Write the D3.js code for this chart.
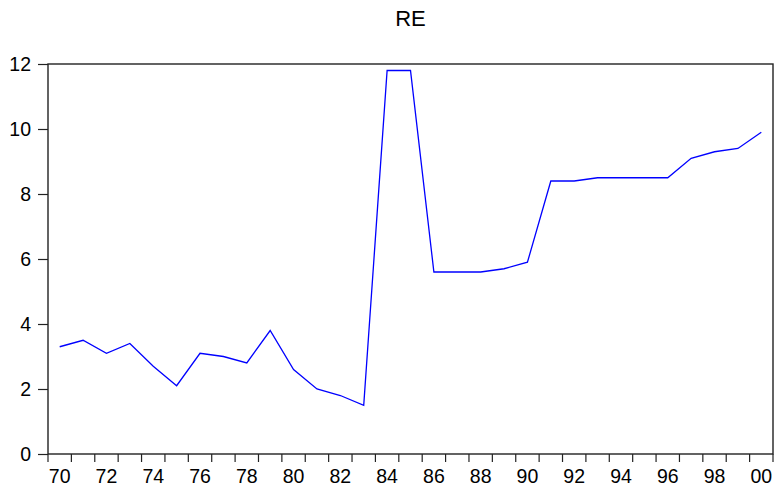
<!DOCTYPE html>
<html>
<head>
<meta charset="utf-8">
<script src="https://cdn.jsdelivr.net/npm/d3@7"></script>
<style>
  body { margin: 0; background: #fff; }
  svg { display: block; font-family: "Liberation Sans", Arial, sans-serif; }
</style>
</head>
<body>
<div id="chart"></div>
<script>
// data
const years = d3.range(1970, 2001);
const reValues = [3.3, 3.5, 3.1, 3.4, 2.7, 2.1, 3.1, 3.0, 2.8, 3.8,
                  2.6, 2.0, 1.8, 1.5, 11.8, 11.8, 5.6, 5.6, 5.6, 5.7,
                  5.9, 8.4, 8.4, 8.5, 8.5, 8.5, 8.5, 9.1, 9.3, 9.4, 9.9];
const yTicks = [0, 2, 4, 6, 8, 10, 12];
const xLabelYears = d3.range(1970, 2001, 2);

const W = 774, H = 490;
const margin = { top: 64, right: 1, bottom: 36, left: 48 };
const width = W - margin.left - margin.right;
const height = H - margin.top - margin.bottom;

const data = years.map((yr, i) => ({ year: yr, value: reValues[i] }));

// one band per year, points sit in the middle of the band
const x = d3.scaleBand()
    .domain(years)
    .range([0, width])
    .padding(0);

const y = d3.scaleLinear()
    .domain([0, 12])
    .range([height, 0]);

const svg = d3.select("#chart")
  .append("svg")
    .attr("width", W)
    .attr("height", H);

svg.append("text")
    .attr("x", margin.left + width / 2)
    .attr("y", 26)
    .attr("text-anchor", "middle")
    .attr("font-size", 22)
    .attr("fill", "#000")
    .text("RE");

const g = svg.append("g")
    .attr("transform", `translate(${margin.left},${margin.top})`);

// y axis
const yAxis = g.append("g")
    .call(d3.axisLeft(y).tickValues(yTicks).tickSize(10).tickPadding(7));
yAxis.select(".domain").remove();
yAxis.selectAll("line").attr("stroke", "#222").attr("stroke-width", 1.2);
yAxis.selectAll("text").attr("font-size", 19.5).attr("fill", "#000")
    .attr("font-family", "Liberation Sans, Arial, sans-serif");

// x axis: ticks at year boundaries, labels centred on every other year
const bounds = years.map(yr => x(yr)).concat([width]);
const xg = g.append("g")
    .attr("transform", `translate(0,${height})`);
xg.selectAll("line.tick")
  .data(bounds)
  .join("line")
    .attr("class", "tick")
    .attr("x1", d => d).attr("x2", d => d)
    .attr("y1", 0).attr("y2", 8)
    .attr("stroke", "#222")
    .attr("stroke-width", 1.2);
xg.selectAll("text")
  .data(xLabelYears)
  .join("text")
    .attr("x", d => x(d) + x.bandwidth() / 2)
    .attr("y", 29)
    .attr("text-anchor", "middle")
    .attr("font-size", 19.5)
    .attr("fill", "#000")
    .text(d => String(d).slice(2));

// frame
g.append("rect")
    .attr("x", 0).attr("y", 0)
    .attr("width", width).attr("height", height)
    .attr("fill", "none")
    .attr("stroke", "#222")
    .attr("stroke-width", 1.4);

// line
const line = d3.line()
    .x(d => x(d.year) + x.bandwidth() / 2)
    .y(d => y(d.value));

g.append("path")
    .datum(data)
    .attr("fill", "none")
    .attr("stroke", "#0000ff")
    .attr("stroke-width", 1.3)
    .attr("d", line);
</script>
</body>
</html>
